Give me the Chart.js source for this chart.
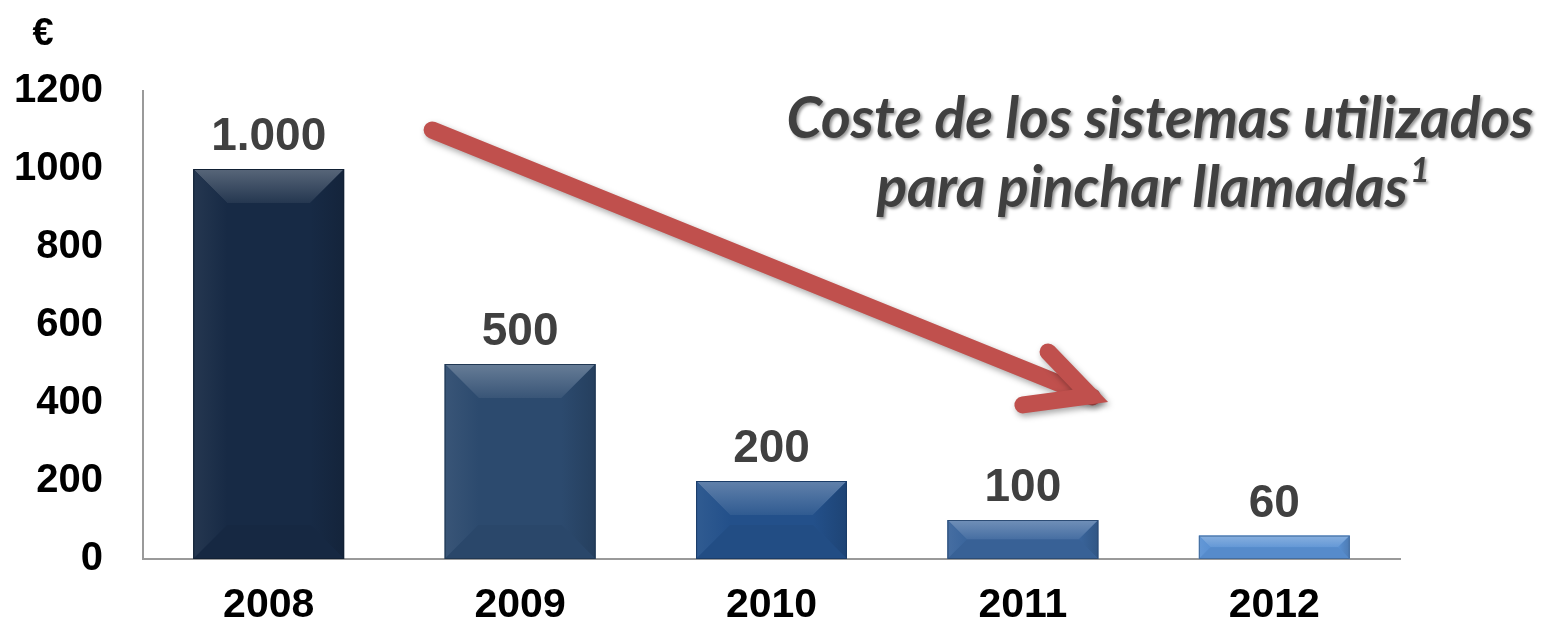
<!DOCTYPE html>
<html>
<head>
<meta charset="utf-8">
<script src="https://cdn.jsdelivr.net/npm/chart.js@4"></script>
<style>
  html, body { margin: 0; padding: 0; background: #fff; }
  #wrap { width: 1560px; height: 626px; }
</style>
</head>
<body>
<div id="wrap"><canvas id="costChart" width="1560" height="626"></canvas></div>
<script>
// Data
const years = ['2008', '2009', '2010', '2011', '2012'];
const costs = [1000, 500, 200, 100, 60];
const yTicks = [0, 200, 400, 600, 800, 1000, 1200];
const titleLines = ['Coste de los sistemas utilizados', 'para pinchar llamadas'];

// bar fills, dark navy to light blue
const barColors = ['#172a45', '#2c4a6e', '#23508a', '#3a659c', '#5a91d3'];

function shade(hex, amt) {
  const n = parseInt(hex.slice(1), 16);
  let r = (n >> 16) & 255, g = (n >> 8) & 255, b = n & 255;
  const f = v => Math.max(0, Math.min(255, Math.round(amt > 0 ? v + (255 - v) * amt : v * (1 + amt))));
  return `rgb(${f(r)},${f(g)},${f(b)})`;
}

// bevel + value labels
const bevelPlugin = {
  id: 'bevel',
  afterDatasetsDraw(chart) {
    const ctx = chart.ctx;
    const meta = chart.getDatasetMeta(0);
    meta.data.forEach((bar, i) => {
      const x0 = bar.x - bar.width / 2, x1 = bar.x + bar.width / 2;
      const top = bar.y, bot = bar.base;
      const h = bot - top;
      const b = Math.min(34, h / 2);
      const c = barColors[i];
      ctx.save();
      // top facet
      let g = ctx.createLinearGradient(0, top, 0, top + b);
      g.addColorStop(0, shade(c, 0.28));
      g.addColorStop(1, shade(c, 0.06));
      ctx.fillStyle = g;
      ctx.beginPath();
      ctx.moveTo(x0, top); ctx.lineTo(x1, top); ctx.lineTo(x1 - b, top + b); ctx.lineTo(x0 + b, top + b);
      ctx.closePath(); ctx.fill();
      // left facet
      g = ctx.createLinearGradient(x0, 0, x0 + b, 0);
      g.addColorStop(0, shade(c, 0.06));
      g.addColorStop(1, c);
      ctx.fillStyle = g;
      ctx.beginPath();
      ctx.moveTo(x0, top); ctx.lineTo(x0 + b, top + b); ctx.lineTo(x0 + b, bot - b); ctx.lineTo(x0, bot);
      ctx.closePath(); ctx.fill();
      // right facet
      g = ctx.createLinearGradient(x1 - b, 0, x1, 0);
      g.addColorStop(0, c);
      g.addColorStop(1, shade(c, -0.15));
      ctx.fillStyle = g;
      ctx.beginPath();
      ctx.moveTo(x1, top); ctx.lineTo(x1 - b, top + b); ctx.lineTo(x1 - b, bot - b); ctx.lineTo(x1, bot);
      ctx.closePath(); ctx.fill();
      // bottom facet
      ctx.fillStyle = shade(c, -0.04);
      ctx.beginPath();
      ctx.moveTo(x0, bot); ctx.lineTo(x0 + b, bot - b); ctx.lineTo(x1 - b, bot - b); ctx.lineTo(x1, bot);
      ctx.closePath(); ctx.fill();
      // edge
      ctx.strokeStyle = shade(c, -0.25);
      ctx.lineWidth = 1;
      ctx.strokeRect(x0 + 0.5, top + 0.5, bar.width - 1, h - 1);
      // value label
      ctx.fillStyle = '#404040';
      ctx.font = 'bold 46px "Liberation Sans", Arial, sans-serif';
      ctx.textAlign = 'center';
      ctx.textBaseline = 'alphabetic';
      ctx.fillText(costs[i].toLocaleString('es-ES', { useGrouping: 'always' }).replace(/\s/g, '.'), bar.x, top - 19);
      ctx.restore();
    });
  }
};

// red trend arrow + title text
const overlayPlugin = {
  id: 'overlay',
  afterDraw(chart) {
    const ctx = chart.ctx;
    const xs = chart.scales.x, ys = chart.scales.y;
    const px = v => xs.getPixelForValue(0) + v * (xs.getPixelForValue(1) - xs.getPixelForValue(0));
    const start = [px(0.65), ys.getPixelForValue(1100)];
    const tip = [px(3.3), ys.getPixelForValue(408)];
    const head1 = [px(3.1), ys.getPixelForValue(531)];
    const head2 = [px(3.0), ys.getPixelForValue(395)];
    ctx.save();
    ctx.shadowColor = 'rgba(0,0,0,0.35)';
    ctx.shadowBlur = 6;
    ctx.shadowOffsetX = 2;
    ctx.shadowOffsetY = 3;
    ctx.strokeStyle = '#c0504d';
    ctx.lineWidth = 17;
    ctx.lineCap = 'round';
    ctx.lineJoin = 'miter';
    ctx.beginPath();
    ctx.moveTo(start[0], start[1]); ctx.lineTo(tip[0] - 6, tip[1] - 3);
    ctx.stroke();
    ctx.beginPath();
    ctx.moveTo(head1[0], head1[1]); ctx.lineTo(tip[0] - 8, tip[1] - 4); ctx.lineTo(head2[0], head2[1]);
    ctx.stroke();
    ctx.restore();

    ctx.save();
    const big = 'italic bold 57px Lato, "Open Sans", sans-serif';
    const sup = 'italic bold 34px Lato, "Open Sans", sans-serif';
    ctx.fillStyle = '#404040';
    ctx.shadowColor = 'rgba(0,0,0,0.4)';
    ctx.shadowBlur = 3;
    ctx.shadowOffsetX = 2;
    ctx.shadowOffsetY = 2;
    ctx.font = big;
    ctx.textAlign = 'center';
    ctx.textBaseline = 'alphabetic';
    ctx.fillText(titleLines[0], 1160, 138);
    const w2 = ctx.measureText(titleLines[1]).width;
    ctx.font = sup;
    const ws = ctx.measureText('1').width;
    const left2 = 1152 - (w2 + ws) / 2;
    ctx.font = big;
    ctx.textAlign = 'left';
    ctx.fillText(titleLines[1], left2, 207);
    ctx.font = sup;
    ctx.fillText('1', left2 + w2 + 2, 182);
    ctx.restore();

    // currency unit
    ctx.save();
    ctx.fillStyle = '#000';
    ctx.font = 'bold 38px "Liberation Sans", Arial, sans-serif';
    ctx.textAlign = 'center';
    ctx.fillText('€', 43, 45);
    ctx.restore();
  }
};

const ctx = document.getElementById('costChart').getContext('2d');
new Chart(ctx, {
  type: 'bar',
  data: {
    labels: years,
    datasets: [{
      data: costs,
      backgroundColor: barColors,
      borderWidth: 0,
      barPercentage: 0.6,
      categoryPercentage: 1
    }]
  },
  options: {
    responsive: false,
    animation: false,
    devicePixelRatio: 1,
    layout: { padding: { top: 91, right: 160, left: 0, bottom: 0 } },
    plugins: {
      legend: { display: false },
      tooltip: { enabled: false }
    },
    scales: {
      x: {
        grid: { display: false, drawTicks: false },
        border: { color: '#9a9a9a', width: 2 },
        ticks: {
          color: '#000',
          padding: 22,
          font: { family: '"Liberation Sans", Arial, sans-serif', size: 41, weight: 'bold' }
        },
        afterFit: s => { s.height = 67; }
      },
      y: {
        min: 0,
        max: 1200,
        afterBuildTicks: s => { s.ticks = yTicks.map(v => ({ value: v })); },
        grid: { display: false, drawTicks: false },
        border: { color: '#9a9a9a', width: 2 },
        ticks: {
          color: '#000',
          padding: 40,
          callback: v => String(v),
          font: { family: '"Liberation Sans", Arial, sans-serif', size: 40, weight: 'bold' }
        },
        afterFit: s => { s.width = 143; }
      }
    }
  },
  plugins: [bevelPlugin, overlayPlugin]
});
</script>
</body>
</html>
